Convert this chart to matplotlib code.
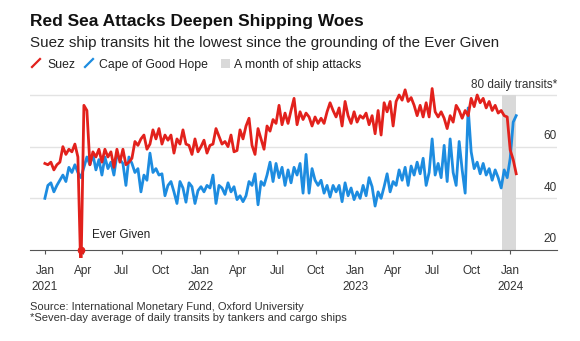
## Imports
import numpy as np
import pandas as pd
import matplotlib
matplotlib.use("Agg")
import matplotlib.pyplot as plt
from matplotlib.lines import Line2D
from matplotlib.patches import Rectangle

plt.rcParams['font.family'] = ['Liberation Sans', 'DejaVu Sans']

## Data (seven-day average of daily transits, roughly weekly)
suez = [53.5, 53, 54, 51, 53, 54, 60, 57, 59, 58,
        61, 56, 10, 76, 74, 53, 58, 56, 59, 54,
        59, 56, 58, 52, 59, 54, 59, 53, 54, 55.5,
        62, 60.5, 63, 64.5, 59, 61, 66.5, 63, 67, 61,
        64.5, 62.5, 64.5, 57.5, 63, 61, 66.5, 61, 60.5, 57,
        63, 58, 60, 62.5, 57.5, 60.5, 61, 67, 64, 61,
        62, 60, 64.5, 58, 58.5, 66.5, 63, 68, 71, 60.5,
        57, 67, 63, 59, 68, 66, 70.5, 69, 76, 68.5,
        73, 69, 74, 78.7, 68.5, 73.5, 70.5, 73, 71.5, 68,
        71.5, 69, 71, 69, 73.5, 77, 74, 71.5, 75, 68,
        77.5, 72, 69, 73.5, 69.5, 72, 71, 73, 68.5, 72,
        65, 74, 64.5, 77, 73.5, 77.5, 68, 77.5, 80, 78,
        82, 77.5, 79, 76, 72, 76, 71.5, 77, 71.5, 82.5,
        73.5, 71.5, 73.5, 71, 67, 72, 69.5, 76, 74, 71,
        74, 72, 78.7, 75.5, 80, 77, 78.7, 75, 77.5, 74,
        76, 73, 74, 72, 71.5, 58.7, 55, 49.5]

cape = [40, 45, 46, 42.5, 45, 47, 49, 46.5, 52, 50,
        53, 50, 48, 52, 56, 53, 57, 51, 55, 49,
        56, 51.5, 54, 49, 57, 55, 53.5, 45, 56, 53.5,
        50, 51.5, 42.5, 49, 47, 57.5, 50, 51.5, 49, 49.5,
        41, 45, 46.5, 42.5, 38, 46.5, 44, 38.5, 46, 44.5,
        38, 43, 44.5, 42.5, 45, 44, 49, 38, 45, 44,
        41.5, 46, 42.5, 44.5, 39.5, 41, 38.7, 41, 46.5, 45,
        49.5, 37.5, 46.5, 45, 49, 54, 46.5, 53.5, 48, 52,
        45, 51, 46, 52, 49, 53.5, 42, 57, 42, 51.5,
        47, 45, 47, 42, 45, 40.5, 45, 42.5, 45, 38.7,
        46, 41, 44, 39.5, 42.5, 40, 45, 41, 48, 44.5,
        37, 42.5, 40, 44.5, 49.5, 42.5, 46.5, 45, 51, 47,
        52, 45, 52.5, 49, 54, 49.5, 55.5, 45, 50, 63,
        49, 53.5, 48, 60.5, 46.5, 63, 50, 45, 62, 51,
        42, 75, 58, 51.5, 54, 49.5, 53.5, 49, 51.5, 47,
        51, 48, 44, 51, 48, 55.5, 69.5, 72]

dates = pd.date_range("2021-01-01", "2024-01-15", periods=len(suez))
ever_given_idx = 12

attack_start = pd.Timestamp("2023-12-13")
attack_end = pd.Timestamp("2024-01-15")

tick_dates = pd.date_range("2021-01-01", "2024-01-01", freq="QS")
tick_labels = [d.strftime("%b") + ("\n" + str(d.year) if d.month == 1 else "") for d in tick_dates]
y_grid = [40, 60, 80]
y_labels = ["40", "60", "80 daily transits*"]

RED = "#e2211c"
BLUE = "#1d8ce0"
GREY = "#d9d9d9"

W, H = 580, 341
def fx(px):
    return px / W
def fy(py):
    return 1 - py / H

## Figure
fig = plt.figure(figsize=(W / 100, H / 100), dpi=100)
ylo, yhi = 16.8, 84
ax_bottom = 95 + (80 - ylo) * 2.583
ax_top = 95 - (yhi - 80) * 2.583
ax = fig.add_axes([fx(30), fy(ax_bottom), fx(557) - fx(30), (ax_bottom - ax_top) / H])

for g in y_grid:
    ax.axhline(g, color="#e3e3e3", lw=1, zorder=0)
ax.fill_betweenx([20, 80], attack_start, attack_end, color=GREY, lw=0, zorder=1)

ax.plot(dates, suez, color=RED, lw=2.0, zorder=4)
ax.plot(dates, cape, color=BLUE, lw=2.0, zorder=3)
ax.plot(dates[ever_given_idx], 20, "o", color=RED, ms=4.5, clip_on=False, zorder=5)
ax.text(pd.Timestamp("2021-04-21"), 24.7, "Ever Given", fontsize=8.5, color="#222",
        va="baseline", ha="left")

ax.set_xlim(pd.Timestamp("2020-11-27"), pd.Timestamp("2024-04-20"))
ax.set_ylim(ylo, yhi)

for s in ["top", "right", "left"]:
    ax.spines[s].set_visible(False)
ax.spines["bottom"].set_position(("data", 20))
ax.spines["bottom"].set_color("#555")
ax.set_yticks([])
ax.set_xticks(tick_dates)
ax.set_xticklabels(tick_labels, fontsize=8.5, color="#333", linespacing=1.4)
ax.tick_params(axis="x", length=3, color="#555", pad=8)

## Right-side y labels above gridlines
ytrans = ax.get_yaxis_transform()
for g, lab in zip(y_grid + [20], y_labels + ["20"]):
    ax.text(1.0, g + 2.9, lab, transform=ytrans, ha="right", va="baseline",
            fontsize=8.5, color="#333")

## Titles
fig.text(fx(30), fy(26), "Red Sea Attacks Deepen Shipping Woes", fontsize=12.5,
         fontweight="bold", color="#111", va="baseline")
fig.text(fx(30), fy(47), "Suez ship transits hit the lowest since the grounding of the Ever Given",
         fontsize=10.9, color="#222", va="baseline")

## Legend
fig.add_artist(Line2D([fx(32), fx(40)], [fy(67), fy(59)], color=RED, lw=1.6))
fig.text(fx(47), fy(68), "Suez", fontsize=8.8, color="#222", va="baseline")
fig.add_artist(Line2D([fx(85), fx(93)], [fy(67), fy(59)], color=BLUE, lw=1.6))
fig.text(fx(99), fy(68), "Cape of Good Hope", fontsize=8.8, color="#222", va="baseline")
fig.add_artist(Rectangle((fx(221), fy(68)), fx(9), 9 / H, color=GREY, lw=0))
fig.text(fx(234), fy(68), "A month of ship attacks", fontsize=8.8, color="#222", va="baseline")

## Footer
fig.text(fx(30), fy(310), "Source: International Monetary Fund, Oxford University",
         fontsize=8, color="#333", va="baseline")
fig.text(fx(30), fy(321), "*Seven-day average of daily transits by tankers and cargo ships",
         fontsize=8, color="#333", va="baseline")

fig.savefig("out.png", dpi=100, facecolor="white")
plt.close()
